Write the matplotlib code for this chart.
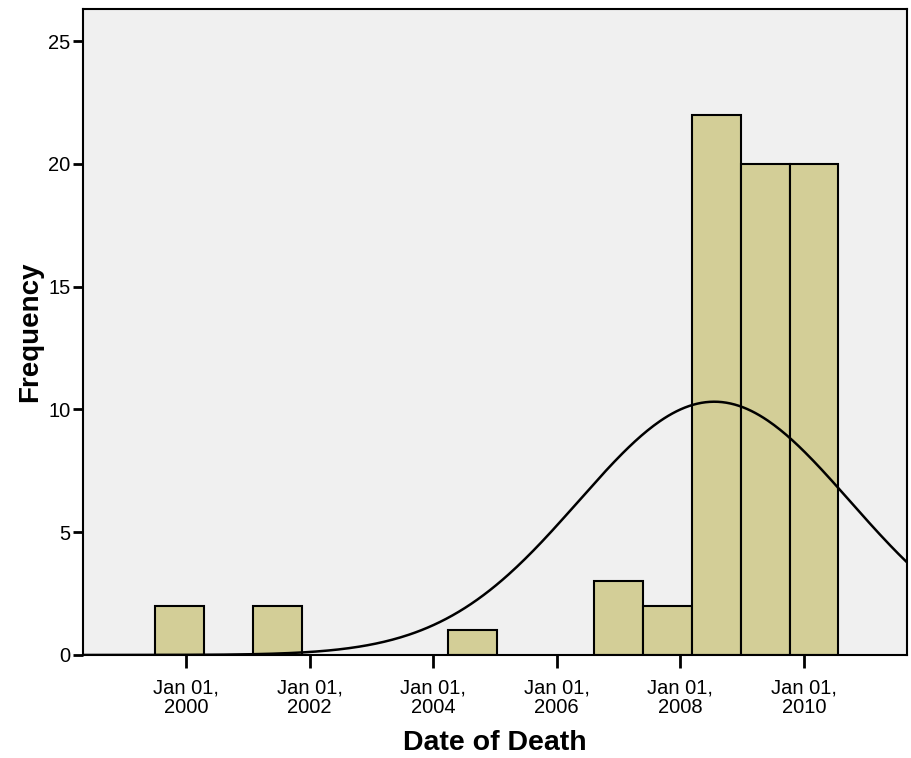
import matplotlib.pyplot as plt
import numpy as np

plt.rcParams['font.family'] = ['Liberation Sans', 'DejaVu Sans']

# histogram bins (decimal years) and counts
bin_start = 1999.50
bin_width = 0.79
counts = [2, 0, 2, 0, 0, 0, 1, 0, 0, 3, 2, 22, 20, 20]

# fitted normal curve
curve_mean = 2008.55
curve_sd = 2.2
n_total = sum(counts)

tick_years = [2000, 2002, 2004, 2006, 2008, 2010]
tick_labels = ['Jan 01,\n%d' % y for y in tick_years]

fig = plt.figure(figsize=(9.11, 7.58), dpi=100)
ax = fig.add_axes([0.0911, 0.1359, 0.9045, 0.852])
ax.set_facecolor('#f0f0f0')

lefts = bin_start + bin_width * np.arange(len(counts))
for x0, c in zip(lefts, counts):
    if c > 0:
        ax.bar(x0, c, width=bin_width, align='edge', color='#d3ce97',
               edgecolor='black', linewidth=1.5, zorder=2)

x = np.linspace(1998.3, 2011.7, 400)
pdf = np.exp(-0.5 * ((x - curve_mean) / curve_sd) ** 2) / (curve_sd * np.sqrt(2 * np.pi))
ax.plot(x, n_total * bin_width * pdf, color='black', linewidth=1.8, zorder=3)

ax.set_xlim(1998.33, 2011.67)
ax.set_ylim(0, 26.3)
ax.set_yticks([0, 5, 10, 15, 20, 25])
ax.set_xticks(tick_years)
ax.set_xticklabels(tick_labels, fontsize=14.5, linespacing=1.05)
ax.tick_params(axis='y', labelsize=14.5, length=7, width=2, direction='out', pad=2)
ax.tick_params(axis='x', length=9, width=2, direction='out', pad=8)

for s in ax.spines.values():
    s.set_linewidth(1.5)

ax.set_xlabel('Date of Death', fontsize=20.5, fontweight='bold', labelpad=9)
ax.set_ylabel('Frequency', fontsize=20, fontweight='bold', labelpad=4)

fig.savefig('out.png', dpi=100)
